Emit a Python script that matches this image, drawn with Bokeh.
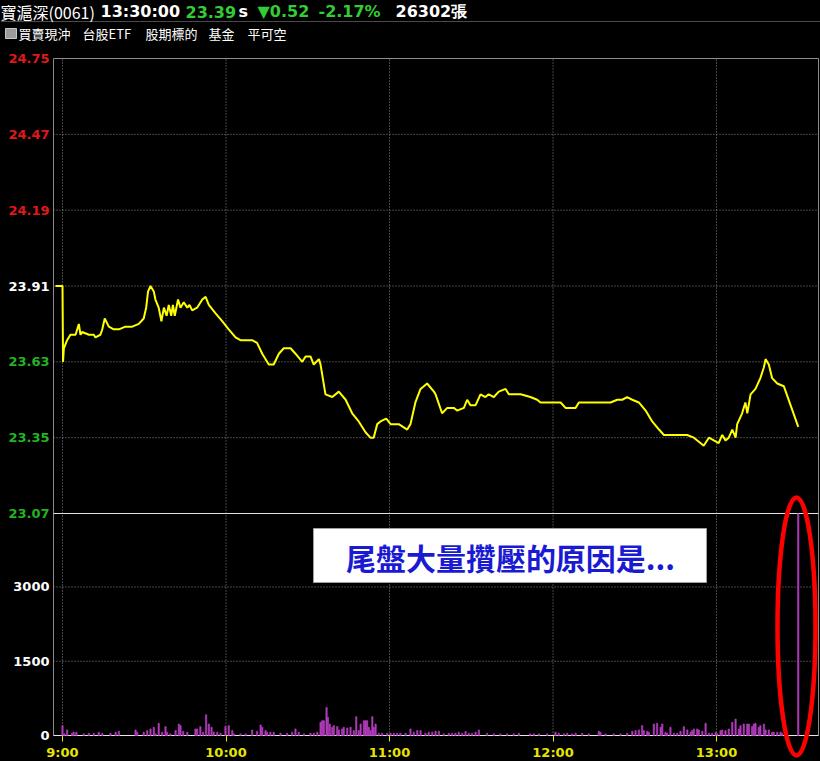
import numpy as np
from bokeh.plotting import figure
from bokeh.models import Range1d, FixedTicker, ColumnDataSource, GlobalInlineStyleSheet
from bokeh.core.properties import value
from bokeh.embed import file_html
from bokeh.resources import INLINE

# ---------------- data ----------------
price_ticks = [24.75, 24.47, 24.19, 23.91, 23.63, 23.35, 23.07]
ref_price = 23.91
vol_ticks = [0, 1500, 3000]
time_ticks = [0, 60, 120, 180, 240]
time_labels = ["9:00", "10:00", "11:00", "12:00", "13:00"]

# minutes after 9:00
price_min = [-2.6, 0.0, 0.2, 0.5, 1.7, 2.9, 4.8, 6.0, 6.6, 7.2,
             9.7, 11.5, 12.1, 13.9, 14.6, 15.5, 17.0, 18.8, 20.7, 23.1,
             25.6, 28.0, 29.8, 30.7, 31.4, 32.3, 33.5, 34.1, 35.3, 36.3,
             37.2, 38.2, 39.0, 39.9, 40.5, 41.2, 42.4, 43.3, 44.5, 45.8,
             46.6, 47.6, 49.4,
             51.3, 52.5, 53.7, 56.1, 58.6, 61.0, 63.5, 65.3, 67.8, 69.6,
             71.4, 73.3, 75.7, 77.5, 79.4, 81.2, 83.7, 85.5, 88.0, 89.2,
             91.0, 92.2, 94.1, 94.7, 96.5, 99.0, 101.4, 103.9, 106.3, 108.7,
             111.2, 113.0, 114.2, 115.5, 116.7, 118.8, 120.4, 123.4, 126.5, 127.7,
             129.5, 131.4, 133.8, 136.3, 136.9, 139.3, 141.2, 143.6, 144.8, 147.3,
             148.5, 149.7, 151.6, 153.4, 155.2, 156.4, 158.3, 160.1, 162.6, 163.8,
             168.1, 171.7, 174.2, 175.4, 179.1, 182.8, 184.6, 188.3, 189.5, 191.3,
             193.1, 195.0, 196.2, 201.1, 203.6, 205.4, 207.2, 209.1, 211.5, 214.0,
             216.4, 218.9, 220.7, 223.2, 226.2, 229.2, 231.7, 234.1, 235.3, 237.2,
             239.0, 240.8, 242.1, 243.3, 244.5, 245.8, 247.0, 247.6, 249.4, 250.6,
             251.3, 252.5, 254.3, 256.1, 257.4, 258.0, 259.2, 260.4, 262.3, 264.7,
             270.0]
price_val = [23.91, 23.91, 23.63, 23.68, 23.71, 23.73, 23.73, 23.77, 23.73, 23.74,
             23.73, 23.73, 23.72, 23.73, 23.75, 23.79, 23.76, 23.75, 23.75, 23.76,
             23.76, 23.77, 23.79, 23.83, 23.89, 23.91, 23.89, 23.86, 23.83, 23.78,
             23.83, 23.80, 23.84, 23.80, 23.84, 23.80, 23.86, 23.83, 23.85, 23.83,
             23.84, 23.82, 23.83,
             23.86, 23.87, 23.84, 23.81, 23.78, 23.75, 23.72, 23.71, 23.71, 23.71,
             23.70, 23.66, 23.62, 23.62, 23.66, 23.68, 23.68, 23.66, 23.63, 23.65,
             23.65, 23.62, 23.64, 23.62, 23.51, 23.50, 23.52, 23.49, 23.44, 23.41,
             23.37, 23.35, 23.35, 23.40, 23.41, 23.42, 23.40, 23.40, 23.38, 23.40,
             23.48, 23.53, 23.55, 23.52, 23.51, 23.44, 23.46, 23.46, 23.45, 23.46,
             23.49, 23.47, 23.47, 23.51, 23.50, 23.51, 23.50, 23.52, 23.53, 23.51,
             23.51, 23.50, 23.49, 23.48, 23.48, 23.48, 23.46, 23.46, 23.48, 23.48,
             23.48, 23.48, 23.48, 23.48, 23.49, 23.49, 23.50, 23.49, 23.48, 23.45,
             23.41, 23.38, 23.36, 23.36, 23.36, 23.36, 23.35, 23.33, 23.32, 23.35,
             23.34, 23.33, 23.36, 23.34, 23.35, 23.38, 23.35, 23.40, 23.44, 23.48,
             23.44, 23.51, 23.53, 23.57, 23.61, 23.64, 23.62, 23.57, 23.55, 23.54,
             23.39]

vol_min = [0.0, 0.7, 1.7, 3.5, 4.1, 5.1, 7.8, 9.7, 11.5, 13.3, 14.6, 17.6, 19.5, 20.7,
           26.8, 27.4, 29.8, 31.1, 32.3, 33.5, 34.1, 35.3, 36.6, 37.8, 38.4, 39.6,
           41.5, 42.7, 43.3, 44.3, 45.8, 48.8, 49.4, 50.6, 51.6, 52.7, 53.7, 54.7,
           55.5, 56.8, 58.0, 59.8, 61.0, 62.3, 62.9, 65.3, 67.2, 69.6, 71.4, 72.7,
           73.3, 74.5, 75.1, 76.3, 77.5, 80.0, 82.4, 84.3, 85.5, 86.7, 88.6, 91.0,
           92.2, 93.5, 94.7, 95.3, 95.9, 96.9, 97.4, 98.1, 99.0, 99.6, 100.8, 101.4,
           102.6, 103.2, 104.5, 105.7, 106.9, 107.8, 108.7, 109.4, 110.6, 111.2,
           111.8, 112.4, 113.0, 113.7, 114.2, 114.9, 116.1, 117.3, 119.2, 120.4,
           121.6, 122.8, 124.0, 125.9, 127.7, 128.9, 130.2, 131.4, 133.2, 134.4,
           135.7, 136.9, 138.1, 139.9, 141.8, 143.0, 144.2, 145.4, 146.7, 147.9,
           149.1, 150.3, 151.6, 152.8, 155.8, 158.3, 160.7, 163.2, 165.6, 167.5,
           171.7, 173.0, 174.8, 177.9, 180.9, 182.1, 184.0, 185.2, 187.0, 188.3,
           190.7, 193.1, 196.8, 197.4, 199.3, 202.3, 204.8, 207.2, 209.1, 210.3,
           211.5, 212.7, 213.3, 214.6, 215.2, 217.0, 218.2, 219.5, 220.1, 221.3,
           221.9, 223.1, 224.4, 225.6, 226.8, 228.0, 229.3, 230.5, 231.1, 231.7,
           232.9, 233.5, 234.8, 236.0, 237.2, 238.4, 239.7, 240.3, 241.5, 242.1,
           243.3, 244.5, 245.8, 247.0, 248.2, 248.8, 250.0, 251.3, 251.9, 253.1,
           253.7, 254.3, 255.5, 256.1, 257.4, 258.0, 259.2, 260.4, 261.0, 262.3,
           263.5, 264.1, 270.0]
vol_val = [200, 33, 113, 47, 67, 67, 33, 47, 47, 67, 47, 47, 67, 87,
           113, 67, 67, 100, 133, 167, 33, 247, 67, 180, 67, 33,
           100, 233, 200, 87, 67, 133, 133, 180, 67, 420, 233, 167,
           67, 67, 47, 180, 200, 100, 33, 33, 33, 113, 87, 213,
           167, 100, 67, 67, 67, 47, 47, 67, 133, 67, 33, 47,
           47, 67, 267, 300, 300, 567, 367, 233, 167, 200, 180, 113,
           133, 167, 153, 167, 100, 380, 100, 233, 300, 300,
           300, 167, 100, 380, 167, 233, 47, 47, 47, 47,
           47, 47, 47, 47, 133, 67, 100, 100, 47, 67,
           67, 87, 87, 33, 47, 47, 47, 67, 47, 80,
           47, 47, 67, 113, 47, 33, 33, 33, 33, 47,
           33, 33, 33, 33, 67, 47, 33, 47, 33, 47,
           47, 33, 87, 67, 33, 33, 33, 47, 87, 100,
           113, 200, 100, 87, 67, 233, 247, 167, 233, 67,
           47, 167, 47, 47, 87, 180, 113, 67, 100, 133,
           133, 113, 87, 247, 47, 47, 67, 33, 100, 113,
           100, 133, 267, 333, 133, 200, 233, 233, 233, 180,
           233, 247, 167, 200, 233, 113, 113, 67, 67, 67,
           67, 47, 4480]

header_row1 = ["寶滬深(0061)", "13:30:00", "23.39", "s", "▼0.52", "-2.17%", "26302張"]
header_row2 = ["買賣現沖", "台股ETF", "股期標的", "基金", "平可空"]
note_text = "尾盤大量攢壓的原因是..."

# ---------------- layout (page pixels -> data) ----------------
W, H = 820, 761
X_9 = 62.0            # page x of 9:00
PX_PER_MIN = 2.725
Y_TOP = 58.0          # page y of the top price tick
Y_SEP = 513.0         # page y of the bottom price tick / volume panel top
Y_ZERO = 735.0        # page y of volume 0
PX_PER_PRICE = (Y_SEP - Y_TOP) / (price_ticks[0] - price_ticks[-1])
VOL_PER_PX = 20.2
FRAME_L, FRAME_R = 53.0, 818.0


def xd(px):
    return (px - X_9) / PX_PER_MIN


def yd(py):
    return price_ticks[0] - (py - Y_TOP) / PX_PER_PRICE


def vd(py):
    return (Y_ZERO - py) * VOL_PER_PX


GRID_C = "#8a8a8a"
YELLOW = "#e6e600"
GREEN_T = "#22b422"
RED_T = "#e01818"
HG = "#33cc33"

p = figure(width=W, height=H, x_range=Range1d(xd(0), xd(W)), y_range=Range1d(yd(H), yd(0)),
           output_backend="svg", toolbar_location=None, y_axis_location=None,
           min_border=0, background_fill_color="black", border_fill_color="black",
           outline_line_color=None)
p.extra_y_ranges = {"vol": Range1d(vd(H), vd(0))}
p.grid.visible = False

# ---- x axis, fixed at the volume zero line ----
p.xaxis.fixed_location = yd(Y_ZERO)
p.xaxis.ticker = FixedTicker(ticks=time_ticks)
p.xaxis.major_label_overrides = dict(zip(time_ticks, time_labels))
p.xaxis.minor_tick_line_color = None
p.xaxis.major_tick_out = 6
p.xaxis.major_tick_in = 0
p.xaxis.major_tick_line_color = YELLOW
p.xaxis.major_tick_line_width = 1
p.xaxis.major_label_standoff = 3
p.xaxis.axis_line_color = None
p.xaxis.major_label_text_color = YELLOW
p.xaxis.major_label_text_font = "DejaVu Sans"
p.xaxis.major_label_text_font_style = "bold"
p.xaxis.major_label_text_font_size = "13px"

# ---- grid lines (dotted) ----
inner_pt = price_ticks[1:-1]
p.segment(x0=[xd(FRAME_L)] * len(inner_pt), x1=[xd(FRAME_R)] * len(inner_pt), y0=inner_pt, y1=inner_pt,
          line_color=GRID_C, line_dash="1 2", line_width=1)
inner_vt = vol_ticks[1:]
p.segment(x0=[xd(FRAME_L)] * len(inner_vt), x1=[xd(FRAME_R)] * len(inner_vt), y0=inner_vt, y1=inner_vt,
          line_color=GRID_C, line_dash="1 2", line_width=1, y_range_name="vol")
p.segment(x0=time_ticks, x1=time_ticks, y0=[0] * len(time_ticks), y1=[vd(Y_TOP)] * len(time_ticks),
          line_color=GRID_C, line_dash="1 2", line_width=1, y_range_name="vol")

# ---- frame ----
p.quad(left=[xd(FRAME_L)], right=[xd(FRAME_R)], top=[price_ticks[0]], bottom=[yd(Y_ZERO)],
       fill_color=None, line_color="#8c8c8c", line_width=1)
p.segment(x0=[xd(FRAME_L)], x1=[xd(FRAME_R)], y0=[price_ticks[-1]], y1=[price_ticks[-1]],
          line_color="#e0e0e0", line_width=1)
p.segment(x0=[xd(FRAME_L)], x1=[xd(FRAME_R)], y0=[0], y1=[0],
          line_color="#e8e8e8", line_width=1, y_range_name="vol")

# ---- y tick labels ----
pcolors = [RED_T if t > ref_price else ("#ffffff" if t == ref_price else GREEN_T) for t in price_ticks]
p.text(x=[xd(49)] * len(price_ticks), y=price_ticks, text=[f"{t:.2f}" for t in price_ticks],
       text_color=pcolors, text_font=value("DejaVu Sans"), text_font_style="bold",
       text_font_size="13px", text_align="right", text_baseline="middle")
p.text(x=[xd(49)] * len(vol_ticks), y=vol_ticks, text=[str(t) for t in vol_ticks],
       text_color="#ffffff", text_font=value("DejaVu Sans"), text_font_style="bold",
       text_font_size="13px", text_align="right", text_baseline="middle", y_range_name="vol")

# ---- volume bars ----
vsrc = ColumnDataSource(dict(m=vol_min, v=vol_val))
p.vbar(x="m", top="v", bottom=0, width=0.5, source=vsrc, y_range_name="vol",
       fill_color="#b43cbe", line_color="#b43cbe", line_width=0.6)

# ---- price line ----
psrc = ColumnDataSource(dict(m=price_min, v=price_val))
p.line(x="m", y="v", source=psrc, line_color="#ffff00", line_width=2)

# ---- note box ----
p.rect(x=[xd(509.5)], y=[vd(555)], width=393, height=54, width_units="screen", height_units="screen",
       fill_color="white", line_color="#a0a0a0", y_range_name="vol")
p.text(x=[xd(510)], y=[vd(556)], text=[note_text], y_range_name="vol",
       text_align="center", text_baseline="middle", text_font=value("Noto Sans CJK TC"),
       text_font_style="bold", text_font_size="30px", text_color="#1a1ad2")

# ---- red ellipse ----
p.ellipse(x=[xd(796)], y=[vd(626)], width=[38], height=[258], width_units="screen",
          height_units="screen", fill_color=None, line_color="#ff0000", line_width=4.5,
          y_range_name="vol")

# ---- header ----
p.segment(x0=[xd(0)], x1=[xd(W)], y0=[yd(21)], y1=[yd(21)], line_color="#4a4a4a", line_width=1)
r1x = [0, 100, 185, 238, 257, 318, 395]
r1c = ["#ffffff", "#ffffff", HG, "#ffffff", HG, HG, "#ffffff"]
p.text(x=[xd(r1x[0])], y=[yd(11)], text=[header_row1[0]], text_color="#ffffff",
       text_font=value("Noto Sans CJK TC"), text_font_size="16px", text_baseline="middle")
p.text(x=[xd(v) for v in r1x[1:]], y=[yd(11)] * 6, text=header_row1[1:], text_color=r1c[1:],
       text_font=value("DejaVu Sans"), text_font_style="bold", text_font_size="16px",
       text_baseline="middle")
p.quad(left=[xd(5)], right=[xd(16)], top=[yd(28)], bottom=[yd(38)],
       fill_color="#9a9a9a", line_color="#c8c8c8")
r2x = [18, 82, 145, 208, 247]
p.text(x=[xd(v) for v in r2x], y=[yd(33)] * 5, text=header_row2, text_color="#ffffff",
       text_font=value("Noto Sans CJK TC"), text_font_size="13px", text_baseline="middle")

p.stylesheets = [GlobalInlineStyleSheet(css="html, body { background-color: #000000; }")]

open("out.html", "w").write(file_html(p, INLINE))
